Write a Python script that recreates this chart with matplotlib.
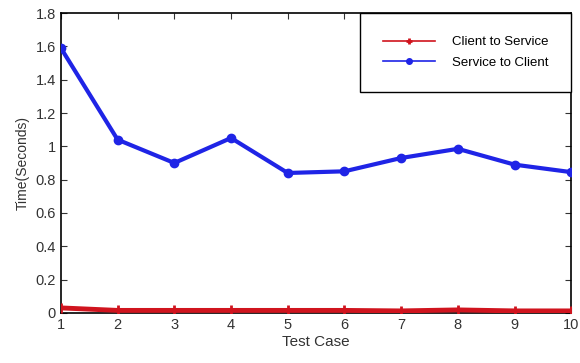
import matplotlib
matplotlib.use('Agg')
import matplotlib.pyplot as plt

plt.rcParams['font.family'] = ['Liberation Sans', 'DejaVu Sans']

test_cases = [1, 2, 3, 4, 5, 6, 7, 8, 9, 10]
client_to_service = [0.03, 0.015, 0.015, 0.015, 0.015, 0.015, 0.012, 0.018, 0.012, 0.012]
service_to_client = [1.59, 1.04, 0.90, 1.05, 0.84, 0.85, 0.93, 0.985, 0.89, 0.845]

fig = plt.figure(figsize=(5.8, 3.63), dpi=100)
ax = fig.add_axes([0.105, 0.138, 0.880, 0.826])

ax.plot(test_cases, client_to_service, color='#d0141e', lw=3.5, marker='+',
        ms=7, mew=2, label='Client to Service', zorder=3)
ax.plot(test_cases, service_to_client, color='#1f24e6', lw=3, marker='o',
        ms=6, label='Service to Client', zorder=3)

ax.set_xlim(1, 10)
ax.set_ylim(0, 1.8)
ax.set_xticks(test_cases)
ax.set_yticks([0, 0.2, 0.4, 0.6, 0.8, 1, 1.2, 1.4, 1.6, 1.8])
ax.set_yticklabels(['0', '0.2', '0.4', '0.6', '0.8', '1', '1.2', '1.4', '1.6', '1.8'])
ax.tick_params(direction='in', top=True, right=True, labelsize=10.5, length=4,
               colors='#333333')
for s in ax.spines.values():
    s.set_linewidth(1.2)
ax.set_xlabel('Test Case', fontsize=11, labelpad=2, color='#333333')
ax.set_ylabel('Time(Seconds)', fontsize=10, labelpad=4, color='#333333')

leg = ax.legend(loc='upper right', fontsize=9.5, fancybox=False,
                edgecolor='black', framealpha=1, borderpad=1.75,
                handlelength=3.9, handletextpad=1.3, labelspacing=0.6,
                borderaxespad=0)
leg.get_frame().set_linewidth(1.0)
for line in leg.get_lines():
    line.set_linewidth(1.2)
    line.set_markersize(4)

fig.savefig('out.png', dpi=100)
